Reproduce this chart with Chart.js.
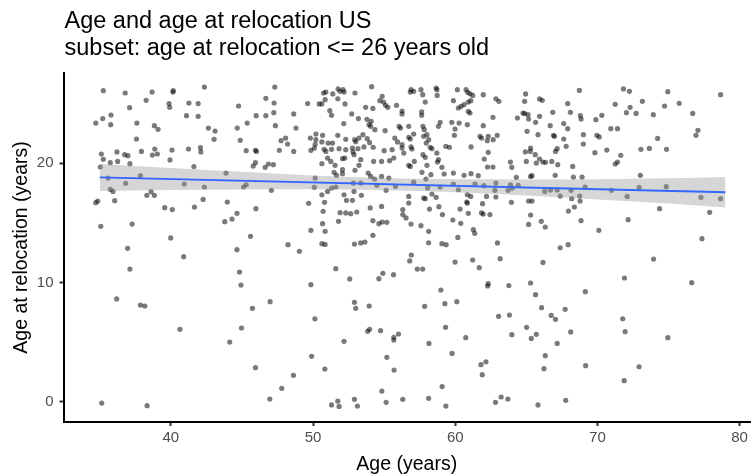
<!DOCTYPE html>
<html>
<head>
<meta charset="utf-8">
<title>Age and age at relocation US</title>
<script src="https://cdn.jsdelivr.net/npm/chart.js@4.4.1/dist/chart.umd.min.js"></script>
<style>
  html, body { margin: 0; padding: 0; background: #ffffff; }
  #wrap { width: 754px; height: 476px; }
</style>
</head>
<body>
<div id="wrap"><canvas id="chart" width="754" height="476"></canvas></div>
<script>
// ---- text ----
const titleLines = [
  'Age and age at relocation US',
  'subset: age at relocation <= 26 years old'
];
const xAxisTitle = 'Age (years)';
const yAxisTitle = 'Age at relocation (years)';

// ---- tick labels ----
const xTickValues = [40, 50, 60, 70, 80];
const yTickValues = [0, 10, 20];

// ---- respondents: [age, age at relocation] ----
const group35to48 = [
  [35.25,26.10],[36.79,25.90],[38.68,25.98],[40.17,26.10],[40.15,25.98],[42.36,26.40],[38.26,25.29],[39.87,25.01],[39.92,24.70],[41.27,25.06],
  [41.92,25.01],[37.10,24.67],[35.79,24.05],[35.21,23.75],[34.72,23.38],[35.77,23.24],[37.61,23.38],[38.84,23.16],[39.10,22.85],[41.10,24.00],
  [41.92,23.94],[42.64,22.96],[43.11,22.71],[43.04,22.01],[37.58,22.04],[35.11,20.78],[35.25,20.33],[36.21,20.95],[36.75,20.72],[36.98,20.64],
  [35.74,20.05],[36.26,20.16],[37.12,19.97],[35.04,19.69],[37.93,21.00],[38.70,20.69],[39.05,20.78],[38.87,21.20],[40.08,21.11],[39.94,20.28],
  [41.24,21.20],[42.08,21.31],[42.11,20.95],[41.62,19.72],[43.88,19.18],[37.86,18.96],[35.58,18.76],[36.82,18.32],[40.94,18.26],[42.36,18.01],
  [35.74,17.81],[35.93,17.64],[36.05,16.86],[34.72,16.69],[34.86,16.83],[38.31,17.31],[38.61,17.62],[38.84,17.31],[39.57,16.27],[40.10,16.11],
  [41.66,16.33],[42.27,16.97],[43.97,16.75],[35.07,14.71],[37.28,14.90],[39.99,13.73],[36.96,12.86],[43.79,15.10],[44.30,15.32],[44.65,15.80],
  [45.98,16.19],[45.60,13.87],[44.65,12.75],[48.24,13.17],[44.76,24.81],[44.67,22.96],[45.37,23.38],[44.88,21.93],[45.30,21.06],[45.95,21.09],
  [46.02,21.00],[45.95,20.05],[45.79,19.77],[46.68,25.45],[47.31,26.40],[47.26,25.06],[47.24,24.25],[46.68,24.00],[46.00,24.00],[47.35,23.16],
  [47.75,21.90],[48.07,22.12],[48.21,21.62],[47.63,21.09],[46.63,19.66],[46.86,19.94],[47.21,19.88],[45.11,18.01],[45.30,18.20],[47.07,17.73]
];

const group48to56 = [
  [54.12,26.43],[51.76,26.24],[52.11,26.18],[50.90,25.98],[50.74,25.90],[51.39,25.82],[51.90,26.04],[52.18,25.98],[52.95,25.90],[51.74,25.42],
  [50.85,25.34],[49.62,25.01],[50.43,24.98],[50.62,24.98],[52.25,24.98],[54.86,25.62],[54.70,25.26],[54.96,25.14],[55.10,24.87],[55.26,24.70],
  [55.87,24.87],[54.21,24.61],[53.70,24.70],[56.26,24.39],[56.26,24.14],[51.18,24.42],[51.30,24.03],[52.72,24.14],[53.19,23.75],[54.09,23.52],
  [53.93,23.24],[54.05,23.10],[53.79,23.69],[52.16,23.33],[48.80,22.96],[55.07,22.74],[56.15,22.96],[56.05,23.10],[55.75,22.12],[55.94,21.79],
  [56.26,21.56],[54.35,22.82],[50.20,22.46],[50.67,22.35],[49.81,22.12],[50.20,21.98],[50.62,21.79],[51.06,21.70],[51.37,21.70],[51.74,22.35],
  [52.30,22.01],[52.93,21.98],[53.00,21.81],[53.23,22.12],[53.51,22.40],[53.81,22.07],[53.98,21.73],[53.58,21.37],[54.23,21.34],[55.00,21.06],
  [55.56,21.14],[56.38,20.86],[56.26,21.28],[55.68,20.44],[50.15,21.59],[50.09,21.28],[49.85,21.09],[50.78,21.17],[50.90,21.00],[51.30,21.17],
  [51.83,21.23],[52.30,21.14],[52.77,21.28],[52.81,20.95],[52.88,20.72],[53.16,21.23],[51.02,20.44],[51.25,20.16],[51.55,19.83],[52.07,20.39],
  [52.23,20.44],[50.62,19.97],[52.07,19.46],[53.23,19.83],[53.35,20.30],[54.26,20.16],[54.82,20.16],[55.38,20.22],[48.64,21.00],[48.64,24.14],
  [51.48,19.24],[51.65,18.99],[52.07,19.13],[52.95,19.41],[53.88,19.18],[54.05,18.90],[54.33,18.68],[54.82,18.90],[55.33,18.76],[50.15,18.76],
  [50.09,17.98],[51.60,18.01],[51.30,17.92],[51.02,17.64],[50.62,17.36],[52.18,17.36],[52.88,17.64],[52.84,18.34],[53.35,18.34],[53.40,17.31],
  [54.49,18.15],[55.14,17.73],[55.80,18.06],[49.69,16.64],[50.81,16.72],[52.35,16.89],[52.77,16.89],[54.02,16.25],[54.82,16.38],[50.71,15.97],
  [51.90,15.85],[52.30,15.83],[52.65,15.77],[53.07,15.91],[51.79,15.13],[50.67,14.93],[54.21,15.18],[54.63,14.93],[54.86,15.07],[55.19,15.04],
  [49.85,14.37],[50.85,14.29],[54.21,13.95],[50.62,13.25],[50.85,13.19],[52.91,13.22],[53.35,13.31],[53.65,13.39],[49.04,12.61],[56.31,16.11],
  [56.31,15.69],[56.54,15.41]
];

const group56to64 = [
  [56.89,26.18],[57.08,26.04],[56.84,25.98],[57.59,26.18],[57.71,25.76],[58.66,26.32],[58.71,26.18],[58.73,25.70],[57.89,25.14],[60.15,26.18],
  [60.76,26.18],[60.88,25.96],[61.04,25.84],[61.23,25.70],[61.97,25.76],[59.87,25.26],[60.92,25.14],[61.09,25.26],[60.62,24.92],[60.41,24.78],
  [60.22,24.64],[60.92,24.36],[61.04,24.22],[62.86,25.42],[63.07,25.20],[57.64,24.31],[57.64,24.03],[58.94,23.44],[58.82,23.10],[57.73,23.10],
  [57.82,22.82],[56.73,23.10],[59.76,23.44],[60.27,23.38],[59.99,22.88],[60.85,23.24],[61.97,23.16],[62.65,23.86],[64.37,23.80],[57.08,22.46],
  [56.73,22.18],[56.84,22.04],[57.78,22.26],[58.01,22.40],[58.13,21.98],[57.96,21.70],[59.94,22.35],[61.74,22.26],[61.85,22.12],[62.32,22.26],
  [62.25,21.90],[62.67,21.98],[62.95,22.35],[56.89,21.37],[56.96,21.20],[58.24,21.34],[58.36,21.23],[58.71,20.86],[59.34,21.42],[59.59,21.34],
  [61.11,21.37],[57.12,20.16],[57.89,20.50],[58.82,20.30],[58.75,20.11],[57.73,20.72],[56.73,19.83],[56.84,19.74],[58.01,19.83],[59.06,19.66],
  [62.04,20.36],[62.32,20.92],[62.27,19.69],[62.65,19.69],[63.88,20.11],[63.98,19.66],[57.66,19.24],[58.29,19.04],[59.22,19.10],[59.87,19.18],
  [60.62,18.99],[61.11,19.13],[61.62,18.96],[57.08,18.43],[57.94,18.68],[58.06,17.92],[58.94,18.01],[59.87,18.26],[60.22,17.78],[61.39,18.26],
  [62.02,18.12],[62.86,18.34],[62.79,17.73],[63.72,17.73],[63.88,18.20],[64.02,17.92],[64.30,18.82],[64.42,18.15],[56.73,17.22],[56.73,16.66],
  [57.78,17.08],[57.89,17.03],[58.36,17.42],[58.66,17.14],[60.85,17.36],[61.09,17.22],[60.81,16.75],[60.85,16.66],[62.20,17.22],[61.92,16.61],
  [62.86,17.17],[63.95,16.72],[58.19,16.16],[58.85,16.36],[59.10,15.69],[60.34,16.16],[60.92,15.80],[61.85,15.83],[61.97,15.74],[62.44,15.69],
  [56.89,14.90],[57.59,14.76],[58.13,14.29],[59.83,15.24],[60.39,14.96],[61.27,14.43],[61.37,14.12],[60.18,13.78],[58.13,13.33],[59.06,13.25],
  [59.36,13.17],[62.97,13.31]
];

const group64to79 = [
  [64.95,25.82],[64.88,25.20],[65.93,25.40],[66.12,25.29],[64.77,24.22],[64.88,24.17],[65.12,24.08],[65.16,23.72],[65.93,23.94],[65.65,23.44],
  [66.86,24.28],[67.91,25.01],[68.10,24.28],[68.73,26.12],[68.80,24.00],[68.85,23.72],[66.68,23.16],[67.63,23.33],[67.91,22.91],[65.05,22.68],
  [65.82,22.40],[66.91,22.35],[66.98,22.26],[67.63,22.04],[69.01,22.40],[69.01,21.62],[64.93,20.95],[65.28,21.00],[65.30,21.28],[65.63,20.72],
  [65.93,20.36],[65.70,20.02],[66.17,20.11],[66.35,20.08],[65.00,20.16],[66.79,20.16],[67.21,19.88],[67.05,21.00],[67.17,21.23],[67.80,21.42],
  [68.26,19.74],[69.82,20.89],[69.96,22.35],[70.13,22.21],[69.89,23.66],[70.31,24.03],[70.94,22.91],[71.41,22.91],[70.66,21.11],[71.25,19.94],
  [71.41,20.11],[71.64,20.67],[71.83,26.24],[72.25,26.04],[71.25,24.95],[72.30,24.70],[72.04,24.25],[72.72,24.19],[73.16,25.20],[73.93,24.08],
  [74.72,24.81],[74.95,26.01],[75.75,25.03],[76.70,24.19],[77.07,22.77],[76.93,22.35],[78.66,25.76],[74.23,22.09],[73.06,21.17],[73.65,21.25],
  [74.86,21.17],[65.30,18.90],[65.40,18.96],[67.03,18.99],[68.31,18.85],[68.92,18.85],[69.13,18.01],[73.02,18.99],[72.93,17.98],[74.84,18.04],
  [70.99,17.73],[66.30,17.64],[66.70,17.76],[67.17,17.76],[67.38,17.25],[68.15,17.73],[68.19,17.03],[68.75,17.25],[68.78,16.83],[65.16,16.83],
  [65.40,16.83],[68.38,16.33],[67.96,15.99],[65.30,15.66],[65.16,14.87],[66.05,15.13],[66.33,14.65],[68.85,15.18],[70.10,14.37],[72.09,17.22],
  [72.16,15.27],[74.37,16.19],[77.28,17.14],[78.66,17.03],[77.89,15.88],[77.35,13.67],[67.38,12.91],[67.94,13.17]
];

// relocated before ~12.5 years old, all ages
const earlyRelocation = [
  [40.90,12.16],[37.12,11.12],[44.83,10.87],[44.93,9.78],[36.19,8.61],[37.86,8.10],[38.17,8.02],[45.74,7.82],[46.98,8.38],[40.64,6.06],
  [44.97,6.17],[44.14,4.99],[45.95,2.84],[47.80,1.11],[46.96,0.21],[35.14,-0.13],[38.33,-0.35],
  [56.91,12.30],[56.80,11.80],[57.33,11.12],[57.71,11.12],[59.99,11.71],[61.23,11.88],[61.69,11.24],[63.16,11.99],[51.60,11.15],[52.58,10.29],
  [54.63,10.31],[54.91,10.76],[55.66,10.65],[49.85,9.81],[58.99,9.36],[62.32,9.89],[62.28,9.70],[63.77,9.73],[52.91,8.33],[53.00,7.82],
  [53.95,8.02],[57.85,7.99],[59.27,8.21],[60.11,8.38],[63.05,7.15],[63.81,7.26],[50.13,6.95],[53.84,5.89],[53.98,6.06],[54.75,5.95],
  [55.68,5.39],[55.68,5.16],[56.01,5.67],[52.18,5.05],[58.15,4.88],[59.32,6.23],[60.74,5.36],[63.98,5.61],[49.90,3.79],[55.19,3.71],
  [59.78,4.04],[50.83,2.73],[55.70,2.64],[61.81,3.09],[62.16,3.34],[61.90,2.25],[48.62,2.20],[59.08,1.25],[54.84,0.88],[51.30,-0.29],
  [51.74,0.04],[51.83,-0.41],[52.91,0.18],[53.12,-0.38],[55.14,-0.07],[56.31,0.18],[58.13,0.27],[59.34,-0.38],[62.83,-0.07],[63.23,0.38],[63.70,0.21],
  [66.17,11.68],[73.95,11.96],[71.90,10.37],[76.63,9.98],[65.30,9.95],[65.65,8.97],[69.15,9.22],[66.07,7.88],[67.73,7.74],[66.75,7.23],
  [67.05,6.90],[71.78,6.95],[65.02,6.23],[65.35,5.30],[65.70,5.64],[68.12,5.84],[71.95,5.86],[67.17,4.88],[74.95,5.36],[66.33,3.85],
  [66.24,2.76],[69.17,3.01],[72.93,2.92],[71.88,1.75],[65.82,-0.29],[67.77,0.10]
];

// ---- linear fit and its 95% confidence band ----
const fitAge = [35.0, 79.0];
const fitValue = [18.82, 17.57];
const bandAge = [35.0, 40, 45, 50, 55, 60, 65, 70, 75, 79.0];
const bandLower = [17.67, 17.75, 17.80, 17.81, 17.74, 17.57, 17.30, 16.97, 16.62, 16.29];
const bandUpper = [19.97, 19.61, 19.28, 18.97, 18.76, 18.65, 18.64, 18.67, 18.74, 18.85];

// ---- build datasets ----
const toXY = (pairs) => pairs.map(p => ({ x: p[0], y: p[1] }));
const zipXY = (xs, ys) => xs.map((x, i) => ({ x: x, y: ys[i] }));

const respondents = []
  .concat(toXY(group35to48))
  .concat(toXY(group48to56))
  .concat(toXY(group56to64))
  .concat(toXY(group64to79))
  .concat(toXY(earlyRelocation));

const FONT = '"Liberation Sans", Arial, Helvetica, sans-serif';

const headline = {
  id: 'headline',
  afterDraw(chart) {
    const ctx = chart.ctx;
    const left = chart.chartArea.left + 1;
    ctx.save();
    ctx.font = '23.5px ' + FONT;
    ctx.fillStyle = '#000000';
    ctx.textAlign = 'left';
    ctx.textBaseline = 'alphabetic';
    ctx.fillText(titleLines[0], left, 28);
    ctx.fillText(titleLines[1], left, 55);
    ctx.restore();
  }
};

new Chart(document.getElementById('chart'), {
  type: 'scatter',
  data: {
    datasets: [
      {
        label: 'fit',
        data: zipXY(fitAge, fitValue),
        showLine: true,
        borderColor: '#3366FF',
        borderWidth: 1.8,
        pointRadius: 0,
        fill: false,
        order: 0
      },
      {
        label: 'upper',
        data: zipXY(bandAge, bandUpper),
        showLine: true,
        borderColor: 'rgba(0,0,0,0)',
        borderWidth: 0,
        pointRadius: 0,
        cubicInterpolationMode: 'monotone',
        backgroundColor: 'rgba(153,153,153,0.4)',
        fill: '+1',
        order: 1
      },
      {
        label: 'lower',
        data: zipXY(bandAge, bandLower),
        showLine: true,
        borderColor: 'rgba(0,0,0,0)',
        borderWidth: 0,
        pointRadius: 0,
        cubicInterpolationMode: 'monotone',
        fill: false,
        order: 1
      },
      {
        label: 'respondents',
        data: respondents,
        pointRadius: 2.6,
        pointBorderWidth: 0,
        pointBackgroundColor: 'rgba(0,0,0,0.52)',
        pointBorderColor: 'rgba(0,0,0,0)',
        order: 2
      }
    ]
  },
  options: {
    responsive: false,
    animation: false,
    devicePixelRatio: 1,
    events: [],
    layout: { padding: { top: 73, right: 0, bottom: 0, left: 0 } },
    plugins: {
      legend: { display: false },
      tooltip: { enabled: false },
      title: { display: false }
    },
    scales: {
      x: {
        type: 'linear',
        min: 32.45,
        max: 80.73,
        afterBuildTicks: (s) => { s.ticks = xTickValues.map(v => ({ value: v })); },
        afterFit: (s) => { s.height = 54; s.paddingLeft = 0; s.paddingRight = 0; },
        grid: {
          display: true,
          drawOnChartArea: false,
          drawTicks: true,
          tickLength: 4,
          tickColor: '#333333',
          tickWidth: 2
        },
        border: { display: true, color: '#000000', width: 2 },
        ticks: {
          color: '#4D4D4D',
          font: { family: FONT, size: 15 },
          padding: 3,
          maxRotation: 0
        },
        title: {
          display: true,
          text: xAxisTitle,
          color: '#000000',
          font: { family: FONT, size: 19.5 },
          padding: { top: 0, bottom: 0 }
        }
      },
      y: {
        type: 'linear',
        min: -1.72,
        max: 27.58,
        afterBuildTicks: (s) => { s.ticks = yTickValues.map(v => ({ value: v })); },
        afterFit: (s) => { s.width = 63.5; s.paddingTop = 0; s.paddingBottom = 0; },
        grid: {
          display: true,
          drawOnChartArea: false,
          drawTicks: true,
          tickLength: 4,
          tickColor: '#333333',
          tickWidth: 2
        },
        border: { display: true, color: '#000000', width: 2 },
        ticks: {
          color: '#4D4D4D',
          font: { family: FONT, size: 15 },
          padding: 6
        },
        title: {
          display: true,
          text: yAxisTitle,
          color: '#000000',
          font: { family: FONT, size: 19.5 },
          padding: { top: 10, bottom: 0 }
        }
      }
    }
  },
  plugins: [headline]
});
</script>
</body>
</html>
